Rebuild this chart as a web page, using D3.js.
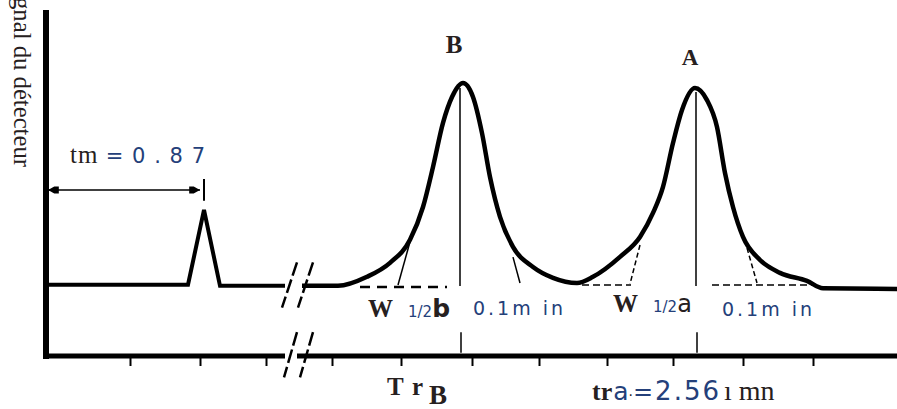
<!DOCTYPE html>
<html>
<head>
<meta charset="utf-8">
<script src="https://cdn.jsdelivr.net/npm/d3@7"></script>
<style>
  body { margin: 0; background: #fff; }
  text { fill: #262020; }
  .num { fill: #24407a; }
</style>
</head>
<body>
<svg id="chart"></svg>
<script>
// time in arbitrary units (schematic, axis is broken), signal normalised to peak B
const preTime   = [0, 1.43, 1.59, 1.75, 2.40];
const preSignal = [0.011, 0.011, 0.376, 0.006, 0.006];

const postTime   = [2.57, 2.93, 3.22, 3.45, 3.65, 3.78, 3.88, 3.98, 4.07, 4.18, 4.28, 4.37, 4.45, 4.55, 4.68, 4.88, 5.08, 5.32,
                    5.48, 5.75, 5.95, 6.08, 6.18, 6.28, 6.37, 6.50, 6.62, 6.72, 6.80, 6.88, 6.98, 7.15, 7.35, 7.62, 7.78, 8.52];
const postSignal = [0.006, 0.006, 0.050, 0.118, 0.230, 0.390, 0.585, 0.800, 0.926, 0.994, 0.926, 0.750, 0.536, 0.342, 0.196, 0.098, 0.045, 0.020,
                    0.050, 0.147, 0.244, 0.361, 0.488, 0.702, 0.863, 0.970, 0.911, 0.780, 0.556, 0.390, 0.244, 0.132, 0.069, 0.030, -0.006, -0.009];

const tickTimes = [0.85, 1.55, 2.21, 2.87, 3.56, 4.27, 4.94, 5.62, 6.28, 6.98, 7.68];
const breakTimes = [2.41, 2.57];

const peakNames  = ["B", "A"];
const peakTimes  = [4.15, 6.51];
const peakTops   = [0.97, 0.95];
const halfLabels = ["b", "a"];

// tangents [t0, s0, t1, s1] : left, right for each peak
const tangentsB = [[3.66, 0.238, 3.53, 0.01], [4.68, 0.146, 4.75, 0.02]];
const tangentsA = [[5.95, 0.205, 5.85, 0.015], [7.02, 0.19, 7.12, 0.02]];
// dashed baseline pieces [from, to, level]
const dashB = [[3.15, 4.02, 0]];
const dashA = [[5.37, 5.86, 0.01], [6.67, 7.68, 0.01]];

const tmValue = "= 0 . 8 7";
const tmTime = 1.59;
const trValue = "2.56";

const W = 897, H = 409;
const serif = "'Liberation Serif', 'DejaVu Serif', serif";
const sans = "'DejaVu Sans', sans-serif";

const svg = d3.select('#chart').attr('width', W).attr('height', H);

const x = d3.scaleLinear().domain([0, 8.52]).range([45, 897]);
const y = d3.scaleLinear().domain([-0.336, 1.35]).range([356, 10]);

// axes
svg.append('line')
  .attr('x1', x(0) + 1).attr('x2', x(0) + 1)
  .attr('y1', y(1.35)).attr('y2', y(-0.336) + 3)
  .attr('stroke', '#000').attr('stroke-width', 6);

[[0, breakTimes[0] - 0.01], [breakTimes[1] - 0.03, 8.52]].forEach(([a, b]) => {
  svg.append('line')
    .attr('x1', x(a) - 2).attr('x2', x(b))
    .attr('y1', y(-0.336)).attr('y2', y(-0.336))
    .attr('stroke', '#000').attr('stroke-width', 5);
});

const axis = svg.append('g')
  .attr('transform', `translate(0,${y(-0.336) + 2})`)
  .call(d3.axisBottom(x).tickValues(tickTimes).tickSize(8).tickFormat(''));
axis.select('.domain').remove();
axis.selectAll('line').attr('stroke', '#000').attr('stroke-width', 2);

// axis break marks
const slashes = [];
breakTimes.forEach(bt => {
  slashes.push([bt + 0.11, 0.12, bt - 0.04, -0.10]);
  slashes.push([bt + 0.11, -0.220, bt - 0.02, -0.44]);
});
svg.append('g').selectAll('line').data(slashes).join('line')
  .attr('x1', d => x(d[0])).attr('y1', d => y(d[1]))
  .attr('x2', d => x(d[2])).attr('y2', d => y(d[3]))
  .attr('stroke', '#000').attr('stroke-width', 2.5)
  .attr('stroke-dasharray', '14,4');

const line = d3.line().x(d => x(d[0])).y(d => y(d[1]));

svg.append('path')
  .datum(preTime.map((t, i) => [t, preSignal[i]]))
  .attr('d', line)
  .attr('fill', 'none').attr('stroke', '#000')
  .attr('stroke-width', 4).attr('stroke-linejoin', 'miter');

// peak verticals (behind trace)
peakTimes.forEach((t, i) => {
  svg.append('line')
    .attr('x1', x(t)).attr('x2', x(t))
    .attr('y1', y(peakTops[i])).attr('y2', y(0.005))
    .attr('stroke', '#000').attr('stroke-width', 1.5);
  svg.append('line')
    .attr('x1', x(t) + 1).attr('x2', x(t) + 1)
    .attr('y1', y(-0.22)).attr('y2', y(-0.32))
    .attr('stroke', '#000').attr('stroke-width', 1.5);
});

svg.append('path')
  .datum(postTime.map((t, i) => [t, postSignal[i]]))
  .attr('d', line.curve(d3.curveMonotoneX))
  .attr('fill', 'none').attr('stroke', '#000')
  .attr('stroke-width', 4.5).attr('stroke-linejoin', 'round');
line.curve(d3.curveLinear);

// tangents and dashed baselines
svg.append('g').selectAll('line').data(tangentsB).join('line')
  .attr('x1', d => x(d[0])).attr('y1', d => y(d[1]))
  .attr('x2', d => x(d[2])).attr('y2', d => y(d[3]))
  .attr('stroke', '#000').attr('stroke-width', 1.5);
svg.append('g').selectAll('line').data(tangentsA).join('line')
  .attr('x1', d => x(d[0])).attr('y1', d => y(d[1]))
  .attr('x2', d => x(d[2])).attr('y2', d => y(d[3]))
  .attr('stroke', '#000').attr('stroke-width', 1.5)
  .attr('stroke-dasharray', '5,3');
svg.append('g').selectAll('line').data(dashB).join('line')
  .attr('x1', d => x(d[0])).attr('x2', d => x(d[1]))
  .attr('y1', d => y(d[2])).attr('y2', d => y(d[2]))
  .attr('stroke', '#000').attr('stroke-width', 2.5)
  .attr('stroke-dasharray', '10,7');
svg.append('g').selectAll('line').data(dashA).join('line')
  .attr('x1', d => x(d[0])).attr('x2', d => x(d[1]))
  .attr('y1', d => y(d[2])).attr('y2', d => y(d[2]))
  .attr('stroke', '#000').attr('stroke-width', 1.5)
  .attr('stroke-dasharray', '7,4');

// tm arrow
const defs = svg.append('defs');
defs.append('marker').attr('id', 'ah')
  .attr('viewBox', '0 -5 12 10').attr('refX', 12).attr('refY', 0)
  .attr('markerUnits', 'userSpaceOnUse')
  .attr('markerWidth', 13).attr('markerHeight', 9).attr('orient', 'auto-start-reverse')
  .append('path').attr('d', 'M0,-4L5,-4L12,0L5,4L0,4Z').attr('fill', '#000');
svg.append('line')
  .attr('x1', x(0.03)).attr('x2', x(tmTime - 0.04))
  .attr('y1', y(0.473)).attr('y2', y(0.473))
  .attr('stroke', '#000').attr('stroke-width', 1.5)
  .attr('marker-start', 'url(#ah)').attr('marker-end', 'url(#ah)');
svg.append('line')
  .attr('x1', x(tmTime)).attr('x2', x(tmTime))
  .attr('y1', y(0.527)).attr('y2', y(0.42))
  .attr('stroke', '#000').attr('stroke-width', 2);

// y label
svg.append('text')
  .attr('transform', 'translate(14,-3) rotate(90)')
  .attr('font-family', serif).attr('font-size', 25)
  .attr('textLength', 170).attr('lengthAdjust', 'spacingAndGlyphs')
  .text('gnal du détecteur');

// tm label
const tm = svg.append('text').attr('x', 70).attr('y', 163)
  .attr('textLength', 135).attr('lengthAdjust', 'spacing');
tm.append('tspan').attr('font-family', serif).attr('font-size', 25).text('tm ');
tm.append('tspan').attr('class', 'num').attr('font-family', sans).attr('font-size', 21).text(tmValue);

// peak labels
peakNames.forEach((n, i) => {
  svg.append('text')
    .attr('x', x(peakTimes[i] - 0.06)).attr('y', i === 0 ? 53 : 65)
    .attr('text-anchor', 'middle')
    .attr('font-family', serif).attr('font-weight', 'bold')
    .attr('font-size', i === 0 ? 25 : 23)
    .text(n);
});

// half width labels
const halfX = [368, 613], halfY = [317, 312], minX = [473, 722], minY = [315, 316];
halfLabels.forEach((h, i) => {
  const t = svg.append('text').attr('x', halfX[i]).attr('y', halfY[i]);
  t.append('tspan').attr('font-family', serif).attr('font-weight', 'bold').attr('font-size', 25).text('W');
  t.append('tspan').attr('dx', 15).attr('class', 'num').attr('font-family', sans).attr('font-size', 15).text('1/2');
  t.append('tspan').attr('font-family', sans).attr('font-weight', i === 0 ? 'bold' : 'normal')
    .attr('font-size', i === 0 ? 25 : 24).text(h);
  svg.append('text').attr('class', 'num').attr('x', minX[i]).attr('y', minY[i])
    .attr('font-family', sans).attr('font-size', 19)
    .attr('textLength', 90).attr('lengthAdjust', 'spacing')
    .text('0.1m in');
});

// retention time labels
svg.append('text').attr('x', 387).attr('y', 395)
  .attr('font-family', serif).attr('font-weight', 'bold').attr('font-size', 25)
  .attr('textLength', 36).attr('lengthAdjust', 'spacing').text('T r');
svg.append('text').attr('x', 429).attr('y', 404)
  .attr('font-family', serif).attr('font-weight', 'bold').attr('font-size', 27).text('B');

const tr = svg.append('text').attr('x', 592).attr('y', 400);
tr.append('tspan').attr('font-family', serif).attr('font-weight', 'bold').attr('font-size', 26).text('tr');
tr.append('tspan').attr('class', 'num').attr('dx', 1).attr('font-family', sans).attr('font-size', 25).text('a');
tr.append('tspan').attr('font-family', sans).attr('font-size', 14).text('·');
tr.append('tspan').attr('class', 'num').attr('font-family', sans).attr('font-size', 24).text('=');
tr.append('tspan').attr('class', 'num').attr('dx', 2).attr('font-family', sans).attr('font-size', 26)
  .attr('letter-spacing', 2).text(trValue);
tr.append('tspan').attr('dx', 3).attr('font-family', serif).attr('font-size', 28).text('ı mn');
</script>
</body>
</html>
